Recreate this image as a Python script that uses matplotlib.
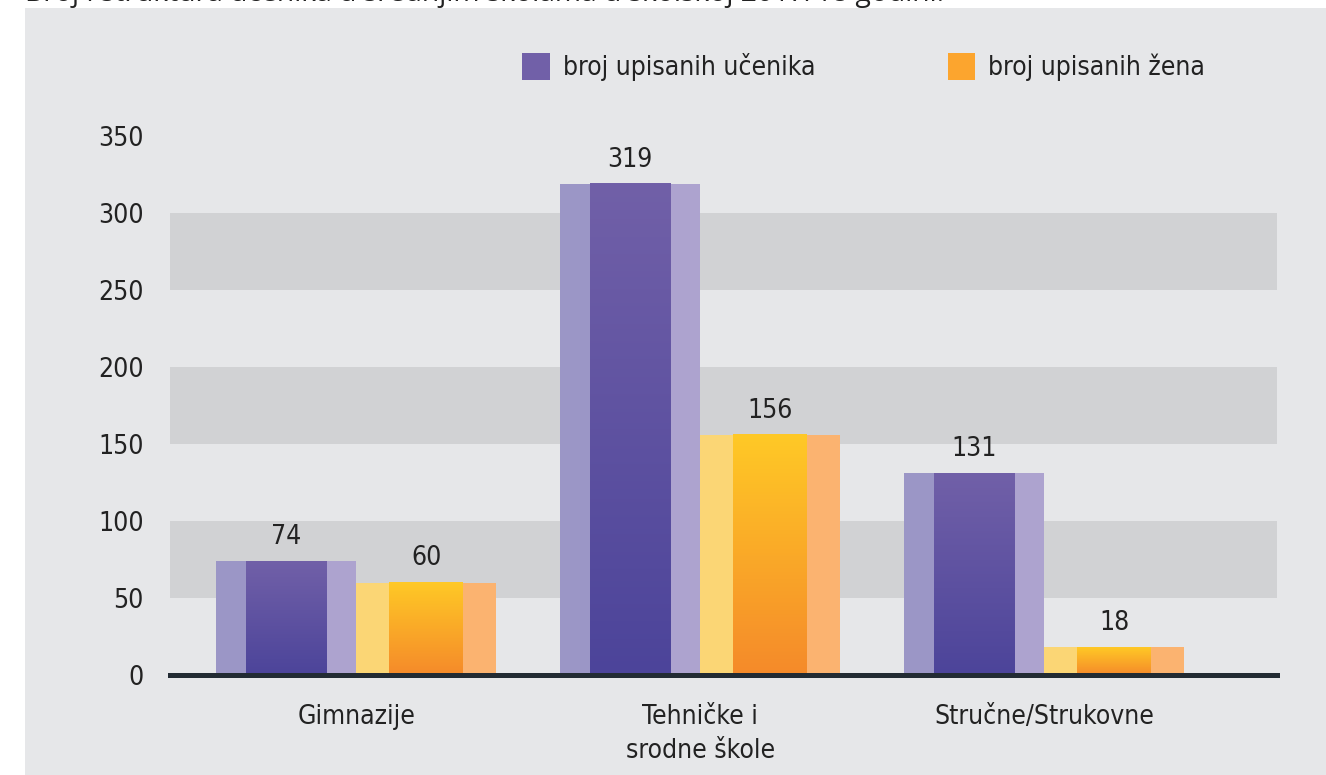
import numpy as np
import matplotlib.pyplot as plt
from matplotlib.patches import Rectangle, Patch
from matplotlib.colors import LinearSegmentedColormap

TITLE = "Broj i struktura učenika u srednjim školama u školskoj 2017/18 godini."
categories = ["Gimnazije", "Tehničke i\nsrodne škole", "Stručne/Strukovne"]
ucenici = [74, 319, 131]
zene = [60, 156, 18]
series_names = ["broj upisanih učenika", "broj upisanih žena"]
yticks = [0, 50, 100, 150, 200, 250, 300, 350]

plt.rcParams['font.family'] = ['DejaVu Sans']
plt.rcParams['font.stretch'] = 'condensed'

W, H = 1326, 775
fig = plt.figure(figsize=(W / 100, H / 100), dpi=100)
fig.patch.set_facecolor("white")
fig.patches.append(Rectangle((25 / W, 0), 1 - 25 / W, 1 - 8 / H,
                             transform=fig.transFigure, facecolor="#e6e7e9",
                             edgecolor="none", zorder=-5))
# title is cut by the top edge, as in the source page
fig.text(25 / W, 1 - 1.5 / H, TITLE, fontsize=20.3, family="Open Sans",
         stretch="normal", color="#222222", va="baseline", ha="left")

ax = fig.add_axes([170 / W, 1 - 675 / H, (1277 - 170) / W, (675 - 136) / H])
ax.set_facecolor("none")
for s in ax.spines.values():
    s.set_visible(False)

# alternating grey bands
for lo in (50, 150, 250):
    ax.axhspan(lo, lo + 50, color="#d1d2d4", zorder=0, lw=0)

x = np.arange(len(categories))
bw = 140 / 344  # width of one bar with its side bands

styles = [
    # offset, left band, right band, top, bottom, side band fraction (l, r)
    (-0.2035, "#9b96c6", "#ada3cf", "#7160a8", "#4c449a", 30 / 140, 30 / 140),
    (0.2035, "#fbd675", "#fbb370", "#ffc926", "#f58a2a", 33 / 140, 34 / 140),
]
grad = np.linspace(0, 1, 256).reshape(-1, 1)

for vals, (off, lc, rc, top, bot, lf, rf) in zip([ucenici, zene], styles):
    cmap = LinearSegmentedColormap.from_list("g", [bot, top])
    left = x + off - bw / 2
    lw_ = bw * lf
    rw_ = bw * rf
    ax.bar(left, vals, lw_, align="edge", color=lc, zorder=2, lw=0)
    ax.bar(left + bw - rw_, vals, rw_, align="edge", color=rc, zorder=2, lw=0)
    for xl, v in zip(left, vals):
        ax.imshow(grad, extent=(xl + lw_, xl + bw - rw_, 0, v), origin="lower",
                  cmap=cmap, aspect="auto", zorder=3)
        ax.annotate(str(v), (xl + bw / 2, v), xytext=(0, 8),
                    textcoords="offset points", ha="center", va="bottom",
                    fontsize=19, color="#222222")

ax.set_xlim(-0.541, 2.677)
ax.set_ylim(0, 350)

ax.axhline(0, color="#222b33", lw=3.6, zorder=5, clip_on=False)

ax.set_yticks(yticks)
ax.set_yticklabels([str(t) for t in yticks], fontsize=19, color="#222222")
ax.set_xticks(x)
ax.set_xticklabels(categories, fontsize=19, color="#222222", linespacing=1.4)
ax.tick_params(axis="y", length=0, pad=19)
ax.tick_params(axis="x", length=0, pad=21)

handles = [Patch(facecolor="#7160a8", edgecolor="none"),
           Patch(facecolor="#fca52e", edgecolor="none")]
fig.legend(handles, series_names, loc="center left",
           bbox_to_anchor=(509 / W, 1 - 67 / H), ncol=2, frameon=False,
           fontsize=19, handlelength=1.05, handleheight=1.2,
           handletextpad=0.5, columnspacing=5.0, borderpad=0,
           labelcolor="#222222")

fig.savefig("out.png", dpi=100)
